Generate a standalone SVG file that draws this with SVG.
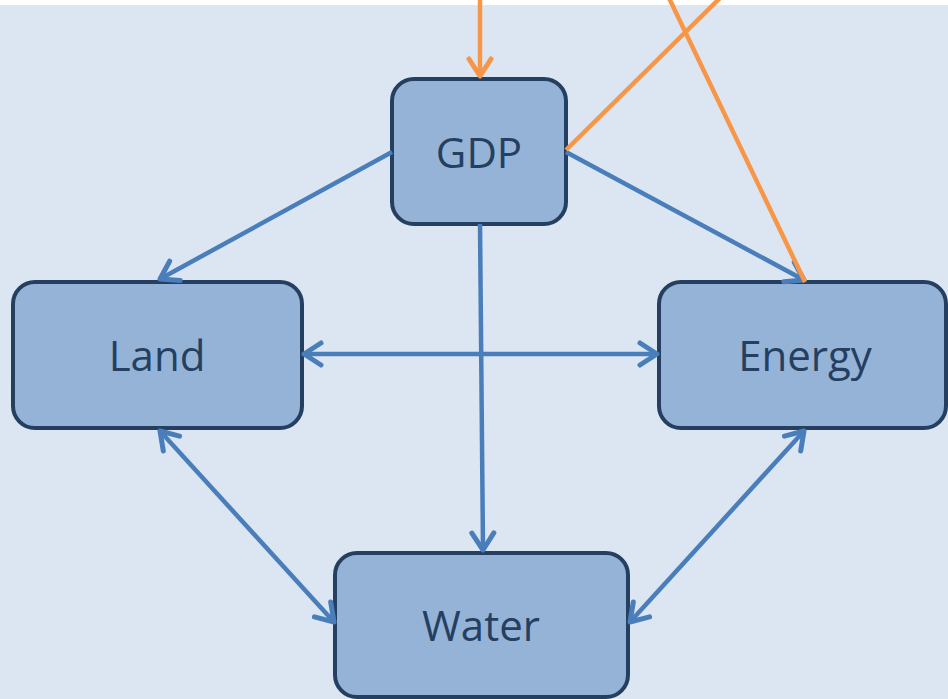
<svg xmlns="http://www.w3.org/2000/svg" width="948" height="699" viewBox="0 0 948 699">
<style>
.box{fill:#95b3d7;stroke:#243f60;stroke-width:4}
.lbl{font-family:"Open Sans","Noto Sans","Liberation Sans",sans-serif;font-size:42px;fill:#243f60;text-anchor:middle}
.bl{stroke:#4a7ebb;stroke-width:4.5;fill:none}
.or{stroke:#f79646;stroke-width:4.5;fill:none}
</style>
<defs>
<marker id="ab" markerUnits="userSpaceOnUse" markerWidth="34" markerHeight="34" viewBox="-22 -17 26 34" refX="0" refY="0" orient="auto-start-reverse">
<path d="M-17,-11 L0,0 L-17,11" fill="none" stroke="#4a7ebb" stroke-width="5" stroke-linecap="round" stroke-linejoin="round"/>
</marker>
<marker id="ao" markerUnits="userSpaceOnUse" markerWidth="34" markerHeight="34" viewBox="-22 -17 26 34" refX="0" refY="0" orient="auto">
<path d="M-17,-11 L0,0 L-17,11" fill="none" stroke="#f79646" stroke-width="5" stroke-linecap="round" stroke-linejoin="round"/>
</marker>
</defs>
<rect x="0" y="5" width="948" height="694" fill="#dce6f2"/>
<g id="gdp"><rect class="box" x="392" y="79" width="174" height="145" rx="22"/><text class="lbl" x="479" y="168">GDP</text></g>
<g id="land"><rect class="box" x="13" y="282" width="289" height="146" rx="22"/><text class="lbl" x="157" y="371">Land</text></g>
<g id="energy"><rect class="box" x="659" y="282" width="287" height="146" rx="22"/><text class="lbl" x="805" y="371">Energy</text></g>
<g id="water"><rect class="box" x="335" y="553" width="293" height="144" rx="22"/><text class="lbl" x="481" y="641">Water</text></g>
<g id="connectors">
<line class="bl" x1="392" y1="152" x2="160" y2="279" marker-end="url(#ab)"/>
<line class="bl" x1="566" y1="152" x2="804" y2="280" marker-end="url(#ab)"/>
<line class="bl" x1="480" y1="224" x2="483" y2="550" marker-end="url(#ab)"/>
<line class="bl" x1="304" y1="354" x2="657" y2="354" marker-start="url(#ab)" marker-end="url(#ab)"/>
<line class="bl" x1="160" y1="431" x2="334" y2="622" marker-start="url(#ab)" marker-end="url(#ab)"/>
<line class="bl" x1="804" y1="431" x2="630" y2="622" marker-start="url(#ab)" marker-end="url(#ab)"/>
<line class="or" x1="480" y1="-2" x2="480" y2="76" marker-end="url(#ao)"/>
<line class="or" x1="566" y1="150" x2="720" y2="-2"/>
<line class="or" x1="669" y1="-2" x2="805" y2="282"/>
</g>
</svg>
